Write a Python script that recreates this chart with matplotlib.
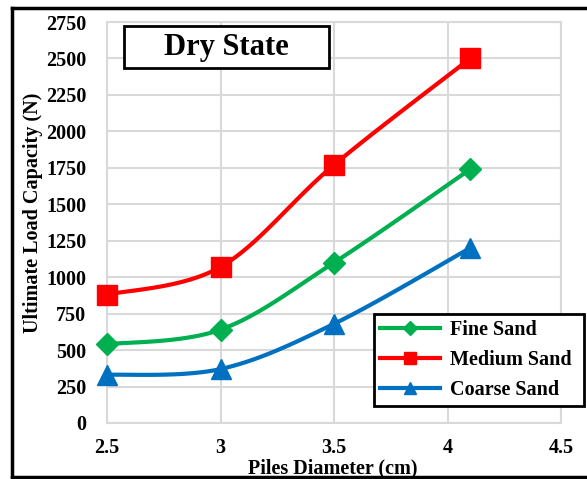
import numpy as np
import matplotlib
matplotlib.use("Agg")
import matplotlib.pyplot as plt
from matplotlib.patches import Rectangle
from matplotlib.lines import Line2D

diameters = [2.5, 3.0, 3.5, 4.1]
fine_sand = [540, 640, 1100, 1740]
medium_sand = [880, 1070, 1770, 2500]
coarse_sand = [330, 370, 680, 1200]
series_names = ["Fine Sand", "Medium Sand", "Coarse Sand"]
x_ticks = [2.5, 3, 3.5, 4, 4.5]
x_tick_labels = ["2.5", "3", "3.5", "4", "4.5"]
y_ticks = list(range(0, 2751, 250))

plt.rcParams['font.family'] = ['Liberation Serif', 'DejaVu Serif']
plt.rcParams['font.weight'] = 'bold'

W, H = 587, 479
fig = plt.figure(figsize=(W / 100, H / 100), dpi=100)
ax = fig.add_axes([107 / W, 1 - 423 / H, (561 - 107) / W, (423 - 22) / H])


def smooth(xs, ys, n=40):
    # Catmull-Rom style bezier smoothing (like Excel smoothed line)
    xs = np.asarray(xs, float)
    ys = np.asarray(ys, float)
    px = np.concatenate([[xs[0]], xs, [xs[-1]]])
    py = np.concatenate([[ys[0]], ys, [ys[-1]]])
    ox, oy = [], []
    for i in range(1, len(px) - 2):
        p0 = np.array([px[i], py[i]])
        p3 = np.array([px[i + 1], py[i + 1]])
        c1 = p0 + (np.array([px[i + 1], py[i + 1]]) - np.array([px[i - 1], py[i - 1]])) / 6
        c2 = p3 - (np.array([px[i + 2], py[i + 2]]) - np.array([px[i], py[i]])) / 6
        t = np.linspace(0, 1, n)[:, None]
        b = (1 - t) ** 3 * p0 + 3 * (1 - t) ** 2 * t * c1 + 3 * (1 - t) * t ** 2 * c2 + t ** 3 * p3
        ox.extend(b[:, 0]); oy.extend(b[:, 1])
    return np.array(ox), np.array(oy)


styles = [
    (fine_sand, "#00B050", "D", 11),
    (medium_sand, "#FF0000", "s", 14),
    (coarse_sand, "#0070C0", "^", 14),
]
handles = []
for (vals, color, mk, ms), name in zip(styles, series_names):
    sx, sy = smooth(diameters, vals)
    ax.plot(sx, sy, color=color, lw=3, clip_on=False, zorder=3)
    ax.plot(diameters, vals, linestyle="none", marker=mk, ms=ms, color=color,
            clip_on=False, zorder=4)
    handles.append(Line2D([], [], color=color, lw=3, marker=mk, ms=ms * 0.65))

ax.set_xlim(2.5, 4.5)
ax.set_ylim(0, 2750)
ax.set_xticks(x_ticks)
ax.set_xticklabels(x_tick_labels)
ax.set_yticks(y_ticks)
ax.grid(True, color="#d9d9d9", lw=1.5, zorder=0)
ax.set_axisbelow(True)
for s in ax.spines.values():
    s.set_color("#d9d9d9")
    s.set_linewidth(1.5)
ax.tick_params(length=0, labelsize=14.5)
ax.yaxis.set_tick_params(pad=15)
ax.xaxis.set_tick_params(pad=11)
for lab in ax.get_xticklabels() + ax.get_yticklabels():
    lab.set_fontweight('bold')

fig.text(333 / W, 1 - 468 / H, "Piles Diameter (cm)", ha="center", va="center",
         fontsize=14.5, fontweight="bold")
fig.text(33 / W, 1 - 213 / H, "Ultimate Load Capacity (N)", ha="center", va="center",
         rotation=90, fontsize=14.5, fontweight="bold")

# title box
fig.patches.append(Rectangle((124 / W, 1 - 68 / H), (329 - 124) / W, (68 - 26) / H,
                             transform=fig.transFigure, fill=True, facecolor="white",
                             edgecolor="black", lw=2, zorder=5))
fig.text(226 / W, 1 - 47 / H, "Dry State", ha="center", va="center",
         fontsize=22, fontweight="bold", zorder=6)

# outer frame
fig.add_artist(Line2D([12 / W, 12 / W], [1 - 477 / H, 1 - 8 / H], color="black", lw=2.5,
                      transform=fig.transFigure))
fig.add_artist(Line2D([12 / W, 1], [1 - 8 / H, 1 - 8 / H], color="black", lw=2.5,
                      transform=fig.transFigure))
fig.add_artist(Line2D([12 / W, 1], [1 - 477 / H, 1 - 477 / H], color="black", lw=2.5,
                      transform=fig.transFigure))

leg = fig.legend(handles, series_names, loc="lower left",
                 bbox_to_anchor=(374 / W, 1 - 406 / H, (584 - 374) / W, (406 - 309) / H),
                 mode="expand", fancybox=False, edgecolor="black", framealpha=1,
                 prop={"size": 14.5, "weight": "bold"}, handlelength=3.0,
                 handletextpad=0.45, labelspacing=0.5, borderpad=0.3, borderaxespad=0)
leg.get_frame().set_linewidth(2)
leg.set_zorder(10)

fig.savefig("out.png", dpi=100)
